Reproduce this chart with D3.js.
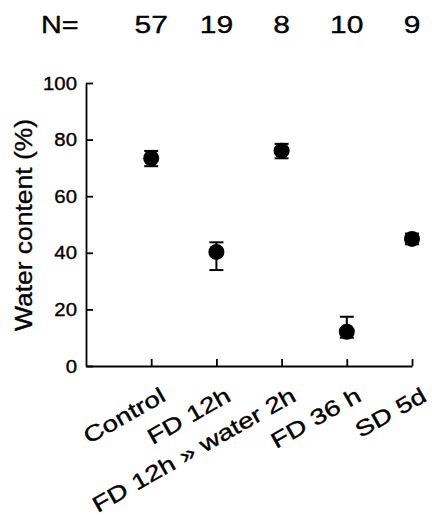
<!DOCTYPE html>
<html>
<head>
<meta charset="utf-8">
<script src="https://cdn.jsdelivr.net/npm/d3@7"></script>
<style>
    body { margin: 0; background: #fff; }
    svg { display: block; }
    svg text { font-family: "Liberation Sans", Arial, sans-serif; fill: #000; stroke: #000; stroke-width: 0.35px; }
</style>
</head>
<body>
<svg id="chart" width="432" height="515"></svg>
<script>
// groups along x, N per group, mean water content and bar ends (%)
var groups = ['Control', 'FD 12h', 'FD 12h \u00bb water 2h', 'FD 36 h', 'SD 5d']
var nCount = [57, 19, 8, 10, 9]
var water = [73.4, 40.3, 76.1, 12.1, 44.9]
var errLo = [70.6, 33.9, 73.4, 10.0, 43.0]
var errHi = [76.0, 43.7, 78.5, 17.4, 46.8]
var yTicks = [0, 20, 40, 60, 80, 100]

var svg = d3.select('#chart')

var conf = { left: 86, right: 412, top: 83, bottom: 366 }

var x = d3.scaleLinear().domain([0, groups.length]).range([conf.left, conf.right])
var y = d3.scaleLinear().domain([0, 100]).range([conf.bottom, conf.top])

// y axis, ticks pointing inward
var yAxis = d3.axisLeft(y).tickValues(yTicks).tickSizeInner(-7).tickSizeOuter(0).tickFormat('')
var gy = svg.append('g').attr('transform', 'translate(' + conf.left + ',0)').call(yAxis)
gy.select('.domain').attr('stroke-width', 1.8)
gy.selectAll('.tick line').attr('stroke-width', 1.8)

svg.append('g').selectAll('text').data(yTicks).enter().append('text')
    .attr('transform', d => 'translate(' + (conf.left - 9) + ',' + (y(d) + 6.5) + ') scale(1.1,1)')
    .attr('text-anchor', 'end')
    .style('font-size', '18.5px')
    .text(d => d)

// x axis, ticks pointing up
var xAxis = d3.axisBottom(x).tickValues(d3.range(1, groups.length + 1))
    .tickSizeInner(-7).tickSizeOuter(0).tickFormat('')
var gx = svg.append('g').attr('transform', 'translate(0,' + conf.bottom + ')').call(xAxis)
gx.select('.domain').attr('stroke-width', 1.8)
gx.selectAll('.tick line').attr('stroke-width', 1.8)

// slanted category labels
svg.append('g').selectAll('text').data(groups).enter().append('text')
    .attr('transform', (d, i) => 'translate(' + (x(i + 1) + 16) + ',400) rotate(-29.5) scale(1.27,1)')
    .attr('text-anchor', 'end')
    .style('font-size', '22px')
    .text(d => d)

// y title
svg.append('text')
    .attr('transform', 'translate(32,225) rotate(-90) scale(1.08,1)')
    .attr('text-anchor', 'middle')
    .style('font-size', '24.5px')
    .text('Water content (%)')

// N row
svg.append('text')
    .attr('transform', 'translate(41,33) scale(1.2,1)')
    .style('font-size', '24px')
    .text('N=')
svg.append('g').selectAll('text').data(nCount).enter().append('text')
    .attr('transform', (d, i) => 'translate(' + x(i + 1) + ',33) scale(1.25,1)')
    .attr('text-anchor', 'middle')
    .style('font-size', '24px')
    .text(d => d)

// error bars
var eb = svg.append('g').attr('stroke', '#000').attr('stroke-width', 2)
groups.forEach((g, i) => {
    var cx = x(i + 1)
    eb.append('line').attr('x1', cx).attr('x2', cx).attr('y1', y(errLo[i])).attr('y2', y(errHi[i]))
    eb.append('line').attr('x1', cx - 7).attr('x2', cx + 7).attr('y1', y(errLo[i])).attr('y2', y(errLo[i]))
    eb.append('line').attr('x1', cx - 7).attr('x2', cx + 7).attr('y1', y(errHi[i])).attr('y2', y(errHi[i]))
})

// points
svg.append('g').selectAll('circle').data(water).enter().append('circle')
    .attr('cx', (d, i) => x(i + 1))
    .attr('cy', d => y(d))
    .attr('r', 8)
    .attr('fill', '#000')
</script>
</body>
</html>
